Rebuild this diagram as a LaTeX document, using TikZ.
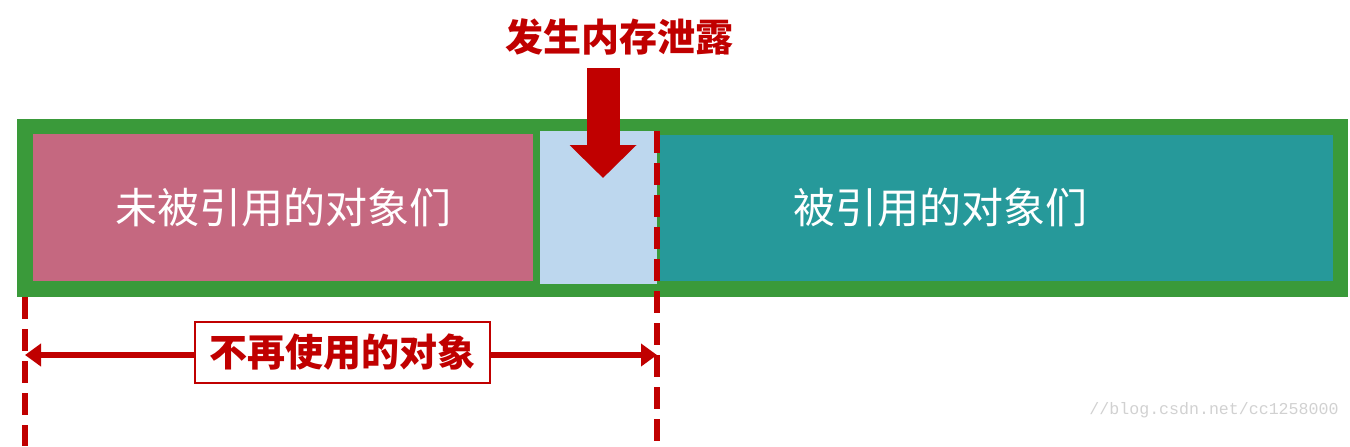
\documentclass[tikz,border=0pt]{standalone}
\usepackage{fontspec}
\newfontfamily\cjk{Noto Sans CJK SC}
\setmonofont{Liberation Mono}
\usetikzlibrary{arrows.meta, positioning, calc}
\definecolor{leakred}{HTML}{C00000}
\definecolor{heapgreen}{HTML}{3A9A3A}
\definecolor{unrefpink}{HTML}{C56880}
\definecolor{leakblue}{HTML}{BDD7EE}
\definecolor{refteal}{HTML}{26999A}

\tikzset{
  block/.style={anchor=north west, inner sep=0pt, draw=none},
  whitetxt/.style={text=white, font=\cjk\fontsize{21pt}{21pt}\selectfont},
  redtxt/.style={text=leakred, font=\cjk\bfseries\fontsize{19pt}{19pt}\selectfont},
  cutline/.style={leakred, line width=3pt, dash pattern=on 11pt off 5pt},
}

\begin{document}
\begin{tikzpicture}[x=0.5pt, y=-0.5pt, >=Stealth]
  \useasboundingbox (0,0) rectangle (1350,446);

  % Nodes
  \node[block, fill=heapgreen, minimum width=665.5pt, minimum height=89pt] (heap) at (17,119) {};
  \node[block, fill=unrefpink, minimum width=250pt, minimum height=73.5pt, whitetxt] (unref) at (33,134) {未被引用的对象们};
  \node[block, fill=leakblue, minimum width=58.5pt, minimum height=76.5pt] (leak) at (540,131) {};
  \node[block, fill=refteal, minimum width=336.5pt, minimum height=73pt] (ref) at (660,135) {};
  \node[whitetxt] (reftxt) at (940,208) {被引用的对象们};

  \node[redtxt] (leaktitle) at (619,37) {发生内存泄露};
  \coordinate (leaktop) at (603,68);
  \coordinate (leaktip) at (603,178);

  \coordinate (lefttop) at (25,297);
  \coordinate (leftbot) at (25,446);
  \coordinate (righttop) at (657,131);
  \coordinate (rightbot) at (657,446);
  \coordinate (spanl) at (25,355);
  \coordinate (spanr) at (657,355);

  % Arrows
  \draw[-{Triangle[width=32.5pt, length=16.5pt]}, leakred, line width=16.5pt] (leaktop) -- (leaktip);

  \draw[cutline] (lefttop) -- (leftbot);
  \draw[cutline] (righttop) -- (rightbot);

  \draw[{Triangle[width=11pt, length=8pt]}-{Triangle[width=11pt, length=8pt]}, leakred, line width=3pt] (spanl) -- (spanr);
  \node[redtxt, draw=leakred, line width=1pt, fill=white, minimum width=147.5pt, minimum height=30.5pt, inner sep=0pt] (unused) at (342.5,352.5) {不再使用的对象};

  \node[text=black!18, font=\ttfamily\fontsize{8.3pt}{8.3pt}\selectfont] (mark) at (1214,410) {//blog.csdn.net/cc1258000};
\end{tikzpicture}
\end{document}
